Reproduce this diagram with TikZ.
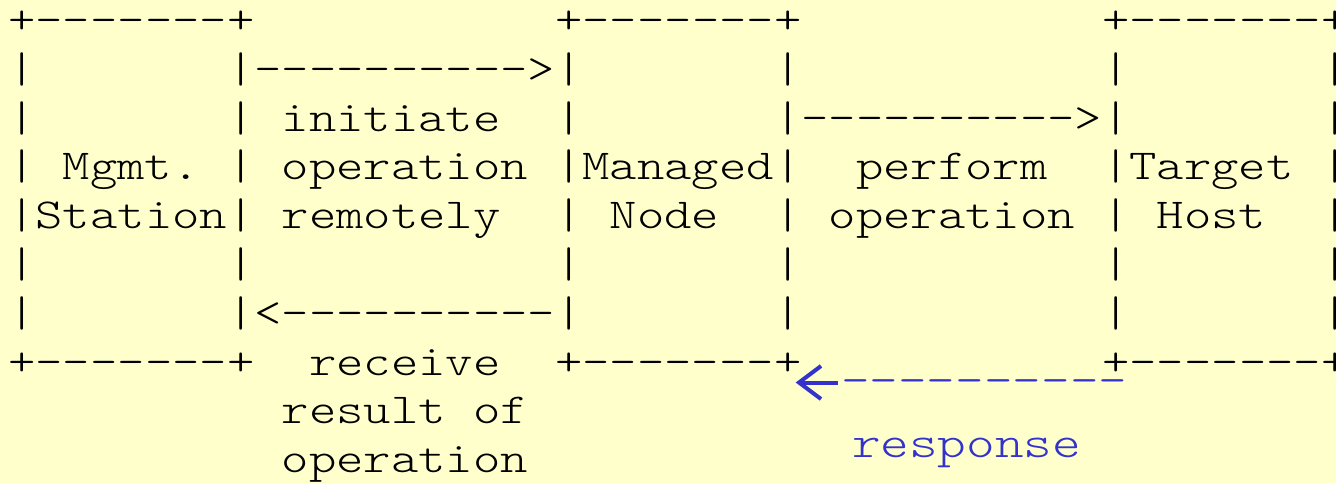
\documentclass[tikz,border=0pt]{standalone}
\usepackage{fontspec}
\setmonofont{Latin Modern Mono Light}[FakeStretch=1.22]
\definecolor{paper}{RGB}{255,255,204}
\definecolor{ink}{RGB}{0,0,0}
\definecolor{reply}{RGB}{51,51,204}
\tikzset{
  row/.style={anchor=base west, inner sep=0pt, outer sep=0pt, text=ink,
    font=\ttfamily\fontsize{42.7pt}{48.8pt}\selectfont},
  replytext/.style={anchor=base west, inner sep=0pt, outer sep=0pt, text=reply,
    font=\ttfamily\fontsize{44.7pt}{50pt}\selectfont},
  replyarrow/.style={draw=reply, line width=4pt, line cap=butt, line join=miter}
}
\begin{document}
\begin{tikzpicture}[x=1pt, y=-1pt]
  \path[use as bounding box, fill=paper] (0,0) rectangle (1336,483);

  % character-cell grid: 27.35pt per column, 48.8pt per row
  \node[row] (r1) at (8.3, 33.5)  {+-------+~~~~~~~~~~~+-------+~~~~~~~~~~~+-------+};
  \node[row] (r2) at (8.3, 82.3)  {|~~~~~~~|---------->|~~~~~~~|~~~~~~~~~~~|~~~~~~~|};
  \node[row] (r3) at (8.3, 131.1) {|~~~~~~~|~initiate~~|~~~~~~~|---------->|~~~~~~~|};
  \node[row] (r4) at (8.3, 179.9) {|~Mgmt.~|~operation~|Managed|~~perform~~|Target~|};
  \node[row] (r5) at (8.3, 228.7) {|Station|~remotely~~|~Node~~|~operation~|~Host~~|};
  \node[row] (r6) at (8.3, 277.5) {|~~~~~~~|~~~~~~~~~~~|~~~~~~~|~~~~~~~~~~~|~~~~~~~|};
  \node[row] (r7) at (8.3, 326.3) {|~~~~~~~|<----------|~~~~~~~|~~~~~~~~~~~|~~~~~~~|};
  \node[row] (r8) at (8.3, 375.1) {+-------+~~receive~~+-------+~~~~~~~~~~~+-------+};
  \node[row] (r9) at (281.8, 423.9) {result~of};
  \node[row] (r10) at (281.8, 472.7) {operation};

  % response path from the target host back to the managed node
  \node[replytext] (dashes) at (841, 394.5) {----------};
  \node[replytext] (resp) at (852, 457) {response};
  \coordinate (tip) at (799, 382.5);
  \coordinate (armup) at (821, 366);
  \coordinate (armdown) at (821, 399);
  \draw[replyarrow] ([xshift=-3pt]dashes.base west |- tip) -- (tip);
  \draw[replyarrow] (armup) -- (tip) -- (armdown);
\end{tikzpicture}
\end{document}
